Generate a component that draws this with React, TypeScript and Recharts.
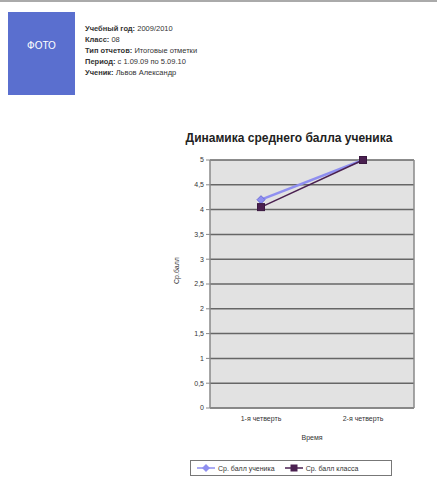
import React from 'react';
import { LineChart, Line, XAxis, YAxis, CartesianGrid, Legend } from 'recharts';

// четверти и средние баллы
const quarters = ['1-я четверть', '2-я четверть'];
const studentAvg = [4.2, 5];
const classAvg = [4.05, 5];
const yTicks = [0, 0.5, 1, 1.5, 2, 2.5, 3, 3.5, 4, 4.5, 5];

const infoRows: [string, string][] = [
  ['Учебный год:', '2009/2010'],
  ['Класс:', '08'],
  ['Тип отчетов:', 'Итоговые отметки'],
  ['Период:', 'с 1.09.09 по 5.09.10'],
  ['Ученик:', 'Львов Александр'],
];

const data = quarters.map((q, i) => ({ name: q, student: studentAvg[i], cls: classAvg[i] }));

const FONT = 'Arial, "Liberation Sans", sans-serif';

const Diamond = (props: any) => {
  const { cx, cy } = props;
  if (cx == null || cy == null) return null;
  return <polygon points={`${cx},${cy - 4} ${cx + 4},${cy} ${cx},${cy + 4} ${cx - 4},${cy}`} fill="#8f8ff0" stroke="#6a6ad8" />;
};

const Square = (props: any) => {
  const { cx, cy } = props;
  if (cx == null || cy == null) return null;
  return <rect x={cx - 3.5} y={cy - 3.5} width={7} height={7} fill="#4a2050" stroke="#3a1840" />;
};

const LegendBox = () => (
  <div
    style={{
      border: '1px solid #777', display: 'flex', alignItems: 'center', gap: 10,
      padding: '3px 6px', fontSize: 7, color: '#333', fontFamily: FONT, width: 202, boxSizing: 'border-box',
    }}
  >
    <span style={{ display: 'flex', alignItems: 'center', gap: 3 }}>
      <svg width={18} height={8}>
        <line x1={0} y1={4} x2={18} y2={4} stroke="#8f8ff0" strokeWidth={1.5} />
        <polygon points="9,0 13,4 9,8 5,4" fill="#8f8ff0" />
      </svg>
      Ср. балл ученика
    </span>
    <span style={{ display: 'flex', alignItems: 'center', gap: 3 }}>
      <svg width={18} height={8}>
        <line x1={0} y1={4} x2={18} y2={4} stroke="#4a2050" strokeWidth={1.5} />
        <rect x={5.5} y={0.5} width={7} height={7} fill="#4a2050" />
      </svg>
      Ср. балл класса
    </span>
  </div>
);

export default function App() {
  return (
    <div style={{ position: 'fixed', left: 0, top: 0, width: 437, height: 478, background: '#fff', overflow: 'hidden' }}>
      {/* верхняя полоса */}
      <div style={{ position: 'absolute', left: 0, top: 0, width: 437, height: 2, background: '#aaa' }} />

      {/* фото */}
      <div
        style={{
          position: 'absolute', left: 8, top: 12, width: 67, height: 83, background: '#5a6fcf',
          color: '#fff', fontFamily: FONT, fontSize: 10, display: 'flex', alignItems: 'center', justifyContent: 'center',
          paddingBottom: 16, boxSizing: 'border-box',
        }}
      >
        ФОТО
      </div>

      {/* шапка отчета */}
      <div style={{ position: 'absolute', left: 85, top: 23, fontFamily: FONT, fontSize: 7.5, lineHeight: '11px', color: '#333' }}>
        {infoRows.map(([k, v]) => (
          <div key={k}>
            <b>{k}</b> {v}
          </div>
        ))}
      </div>

      {/* заголовок */}
      <div
        style={{
          position: 'absolute', left: 175, width: 228, top: 131, textAlign: 'center',
          fontFamily: FONT, fontSize: 12, fontWeight: 'bold', color: '#222', whiteSpace: 'nowrap',
        }}
      >
        Динамика среднего балла ученика
      </div>

      <div style={{ position: 'absolute', left: 0, top: 0 }}>
        <LineChart width={437} height={478} data={data} margin={{ top: 160, right: 22, left: 155, bottom: 4 }}>
          <CartesianGrid yAxisId="l" vertical={false} stroke="#666" strokeWidth={1.5} fill="#e2e2e2" />
          <XAxis
            dataKey="name"
            scale="band"
            height={50}
            tick={{ fontSize: 7, fill: '#333', fontFamily: FONT }}
            axisLine={{ stroke: '#888', strokeWidth: 1.5 }}
            tickLine={false}
            label={{ value: 'Время', position: 'insideBottom', offset: 18, fontSize: 7, fill: '#333', fontFamily: FONT }}
          />
          <YAxis
            yAxisId="l"
            domain={[0, 5]}
            ticks={yTicks}
            width={55}
            tickFormatter={(v: number) => String(v).replace('.', ',')}
            tick={{ fontSize: 7, fill: '#333', fontFamily: FONT }}
            axisLine={{ stroke: '#888', strokeWidth: 1.5 }}
            tickLine={{ stroke: '#888' }}
            tickSize={4}
            label={{ value: 'Ср.балл', angle: -90, position: 'insideLeft', offset: 22, fontSize: 7, fill: '#333', fontFamily: FONT }}
          />
          <YAxis yAxisId="r" orientation="right" width={1} tick={false} axisLine={{ stroke: '#888', strokeWidth: 1.5 }} domain={[0, 5]} />
          <Legend content={<LegendBox />} wrapperStyle={{ left: 190, width: 202, bottom: 2 }} />
          <Line
            yAxisId="l"
            dataKey="student"
            name="Ср. балл ученика"
            stroke="#8f8ff0"
            strokeWidth={2.5}
            dot={<Diamond />}
            isAnimationActive={false}
          />
          <Line
            yAxisId="l"
            dataKey="cls"
            name="Ср. балл класса"
            stroke="#4a2050"
            strokeWidth={1.5}
            dot={<Square />}
            isAnimationActive={false}
          />
        </LineChart>
      </div>
    </div>
  );
}
